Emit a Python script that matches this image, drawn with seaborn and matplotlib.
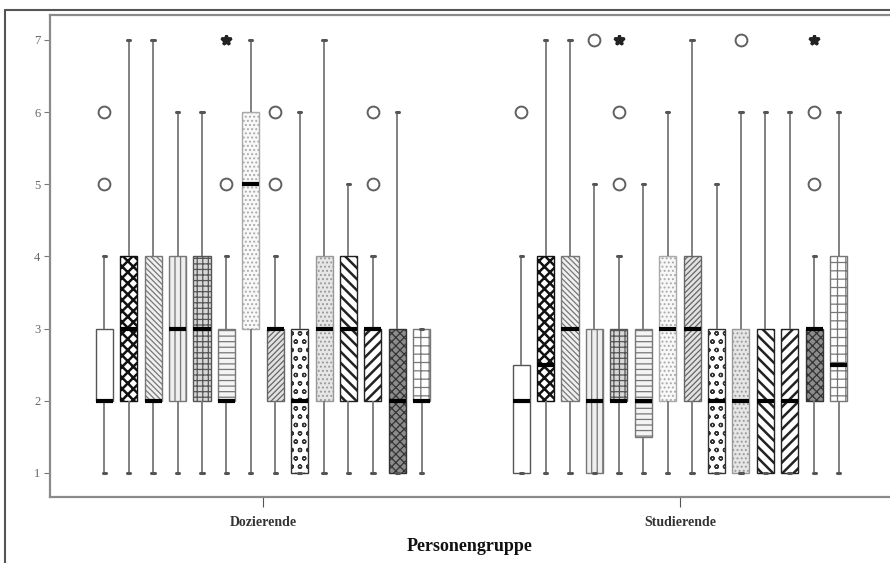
import numpy as np
import pandas as pd
import matplotlib
matplotlib.use("Agg")
import matplotlib.pyplot as plt
import seaborn as sns
from matplotlib.lines import Line2D
from matplotlib.patches import PathPatch

# Groups and items (14 items per group, one box each)
groups = ["Dozierende", "Studierende"]
items = ["Item %d" % i for i in range(1, 15)]

# Values: lower whisker, Q1, median, Q3, upper whisker
doz_low = [1, 1, 1, 1, 1, 1, 1, 1, 1, 1, 1, 1, 1, 1]
doz_q1 = [2, 2, 2, 2, 2, 2, 3, 2, 1, 2, 2, 2, 1, 2]
doz_med = [2, 3, 2, 3, 3, 2, 5, 3, 2, 3, 3, 3, 2, 2]
doz_q3 = [3, 4, 4, 4, 4, 3, 6, 3, 3, 4, 4, 3, 3, 3]
doz_high = [4, 7, 7, 6, 6, 4, 7, 4, 6, 7, 5, 4, 6, 3]
doz_out = [[5, 6], [], [], [], [], [5], [], [5, 6], [], [], [], [5, 6], [], []]
doz_extreme = [[], [], [], [], [], [7], [], [], [], [], [], [], [], []]

stud_low = [1, 1, 1, 1, 1, 1, 1, 1, 1, 1, 1, 1, 1, 1]
stud_q1 = [1, 2, 2, 1, 2, 1.5, 2, 2, 1, 1, 1, 1, 2, 2]
stud_med = [2, 2.5, 3, 2, 2, 2, 3, 3, 2, 2, 2, 2, 3, 2.5]
stud_q3 = [2.5, 4, 4, 3, 3, 3, 4, 4, 3, 3, 3, 3, 3, 4]
stud_high = [4, 7, 7, 5, 4, 5, 6, 7, 5, 6, 6, 6, 4, 6]
stud_out = [[6], [], [], [7], [5, 6], [], [], [], [], [7], [], [], [5, 6], []]
stud_extreme = [[], [], [], [], [7], [], [], [], [], [], [], [], [7], []]

# Box fills, hatch patterns and hatch colours (SPSS style)
fills = ["#ffffff", "#ffffff", "#f0f0f0", "#eeeeee", "#d8d8d8", "#f4f4f4", "#f8f8f8",
         "#e2e2e2", "#ffffff", "#e6e6e6", "#ffffff", "#ffffff", "#8c8c8c", "#ffffff"]
hatches = ["", "xxx", "\\\\\\\\\\\\", "|||", "+++", "---", "....",
           "//////", "oo", "....", "\\\\\\", "///", "xxxx", "++"]
hatch_cols = ["#555555", "#111111", "#777777", "#777777", "#555555", "#777777", "#aaaaaa",
              "#666666", "#333333", "#999999", "#222222", "#222222", "#333333", "#777777"]


def box_sample(lo, q1, med, q3, hi, out):
    # observations that reproduce the read five-number summary
    return [lo] + [q1] * 20 + [med] * 20 + [q3] * 20 + [hi] + list(out)


rows = []
ext_rows = []
for grp, lows, q1s, meds, q3s, highs, outs, exts in [
        (groups[0], doz_low, doz_q1, doz_med, doz_q3, doz_high, doz_out, doz_extreme),
        (groups[1], stud_low, stud_q1, stud_med, stud_q3, stud_high, stud_out, stud_extreme)]:
    for item, lo, a, m, b, hi, o, e in zip(items, lows, q1s, meds, q3s, highs, outs, exts):
        for v in box_sample(lo, a, m, b, hi, o):
            rows.append((grp, item, v))
        for v in e:
            ext_rows.append((grp, item, v))

df = pd.DataFrame(rows, columns=["Personengruppe", "Item", "Wert"])
ext_df = pd.DataFrame(ext_rows, columns=["Personengruppe", "Item", "Wert"])

sns.set_style("white")
plt.rcParams["font.family"] = ["Liberation Serif", "DejaVu Serif"]
plt.rcParams["hatch.linewidth"] = 1.0

fig = plt.figure(figsize=(8.9, 5.63), dpi=100)
ax = fig.add_axes([50 / 890, 66 / 563, 1 - 50 / 890, 482 / 563])

width = 0.82
sns.boxplot(data=df, x="Personengruppe", y="Wert", hue="Item", order=groups,
            hue_order=items, palette=fills, width=width, gap=0.3, whis=1.5,
            linewidth=1.0, linecolor="#555555", legend=False, ax=ax,
            flierprops=dict(marker="o", markersize=8.5, markerfacecolor="none",
                            markeredgecolor="#606060", markeredgewidth=1.4),
            medianprops=dict(color="black", linewidth=3.0),
            whiskerprops=dict(color="#777777", linewidth=1.3),
            capprops=dict(color="#555555", linewidth=2.2))

# extreme values (> 3 IQR) as stars
sns.pointplot(data=ext_df, x="Personengruppe", y="Wert", hue="Item", order=groups,
              hue_order=items, palette=["#222222"] * 14, dodge=width * 13 / 14,
              markers="*", linestyles="none", errorbar=None, markersize=7,
              legend=False, ax=ax)

# hatches on the boxes, matched by position
boxes = [p for p in ax.patches if isinstance(p, PathPatch)]
boxes.sort(key=lambda p: p.get_path().vertices[:, 0].mean())
for i, p in enumerate(boxes):
    k = i % len(items)
    p.set_hatch(hatches[k])
    p.set_edgecolor(hatch_cols[k])
    if hasattr(p, "set_hatch_linewidth"):
        p.set_hatch_linewidth(1.8 if k in (1, 10, 11) else 0.9)

# SPSS draws only a tiny tick at the whisker ends
for ln in ax.lines:
    xd = np.asarray(ln.get_xdata(), dtype=float)
    yd = np.asarray(ln.get_ydata(), dtype=float)
    if ln.get_linewidth() == 2.2 and len(xd) == 2 and yd[0] == yd[1]:
        c = xd.mean()
        ln.set_xdata([c - 0.004, c + 0.004])

ax.set_xlim(-0.511, 1.504)
ax.set_ylim(0.667, 7.346)
ax.set_yticks([1, 2, 3, 4, 5, 6, 7])

for side in ["left", "bottom", "top"]:
    ax.spines[side].set_color("#8a8a8a")
    ax.spines[side].set_linewidth(1.6)
ax.spines["right"].set_visible(False)

ax.tick_params(axis="y", length=4, color="#777777", labelsize=9, labelcolor="#666666",
               direction="out", left=True, pad=3)
ax.tick_params(axis="x", length=7, color="#555555", labelsize=10, labelcolor="#333333",
               direction="out", bottom=True, pad=7)
for lab in ax.get_xticklabels():
    lab.set_fontweight("bold")
ax.set_ylabel("")
ax.set_xlabel("Personengruppe", fontsize=13, fontweight="bold", color="#111111", labelpad=6)

# outer chart frame
fig.add_artist(Line2D([5 / 890, 5 / 890], [0, 553 / 563], transform=fig.transFigure,
                      color="#555555", linewidth=1.5))
fig.add_artist(Line2D([5 / 890, 1], [553 / 563, 553 / 563], transform=fig.transFigure,
                      color="#555555", linewidth=1.5))

fig.savefig("out.png", dpi=100)
